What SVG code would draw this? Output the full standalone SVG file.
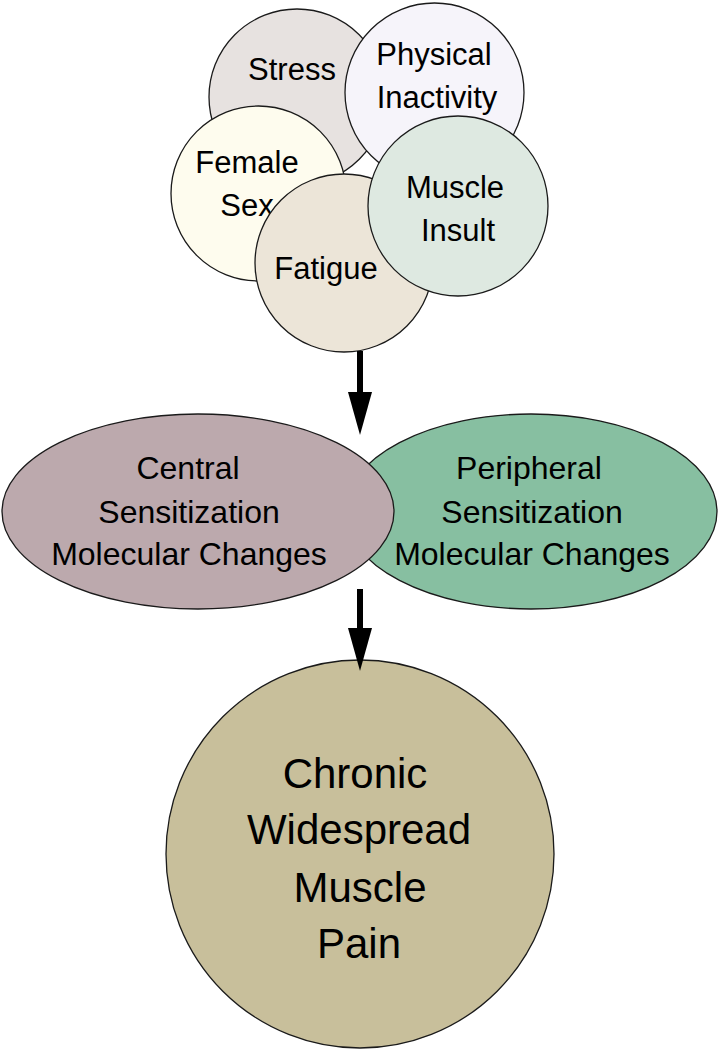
<svg xmlns="http://www.w3.org/2000/svg" width="719" height="1050" viewBox="0 0 719 1050">
<style>
.n{stroke:#1a1a1a;stroke-width:1.3}
.t{font-family:"Liberation Sans",Arial,sans-serif;font-size:31px;fill:#000;text-anchor:middle}
.e{font-size:32px}
.b{font-size:42px}
.c{stroke:#000;stroke-width:6;fill:none}
</style>
<defs>
<marker id="ah" markerUnits="userSpaceOnUse" markerWidth="44" markerHeight="26" viewBox="0 -13 44 26" refX="0" refY="0" orient="auto">
<path d="M0,-12 L43,0 L0,12 z" fill="#000"/>
</marker>
</defs>
<rect width="719" height="1050" fill="#fff"/>
<g id="stress"><circle class="n" cx="297" cy="97" r="88" fill="#e7e2e0"/><text class="t" x="292" y="80">Stress</text></g>
<g id="physical-inactivity"><circle class="n" cx="434.5" cy="92.5" r="89.5" fill="#f6f4fa"/><text class="t" x="434" y="65">Physical</text><text class="t" x="437" y="108">Inactivity</text></g>
<g id="female-sex"><circle class="n" cx="258.5" cy="193.5" r="87.5" fill="#fefcee"/><text class="t" x="247" y="173">Female</text><text class="t" x="247" y="216">Sex</text></g>
<g id="fatigue"><circle class="n" cx="344" cy="263" r="89" fill="#ece5d8"/><text class="t" x="326" y="279">Fatigue</text></g>
<g id="muscle-insult"><circle class="n" cx="458" cy="206" r="90" fill="#dee9e1"/><text class="t" x="455" y="198">Muscle</text><text class="t" x="458" y="241">Insult</text></g>
<g id="peripheral"><ellipse class="n" cx="531" cy="511.5" rx="186" ry="97.5" fill="#87bfa1"/><text class="t e" x="529" y="479">Peripheral</text><text class="t e" x="532" y="523">Sensitization</text><text class="t e" x="532" y="565">Molecular Changes</text></g>
<g id="central"><ellipse class="n" cx="198" cy="511.5" rx="196" ry="97.5" fill="#bca9ad"/><text class="t e" x="188" y="479">Central</text><text class="t e" x="189" y="523">Sensitization</text><text class="t e" x="189" y="565">Molecular Changes</text></g>
<g id="pain"><circle class="n" cx="360" cy="854" r="194" fill="#c8bf9b"/><text class="t b" x="355" y="788">Chronic</text><text class="t b" x="359" y="844">Widespread</text><text class="t b" x="360" y="902">Muscle</text><text class="t b" x="359" y="958">Pain</text></g>
<g id="connectors">
<line class="c" x1="360" y1="351" x2="360" y2="392" marker-end="url(#ah)"/>
<line class="c" x1="360" y1="589" x2="360" y2="628" marker-end="url(#ah)"/>
</g>
</svg>
